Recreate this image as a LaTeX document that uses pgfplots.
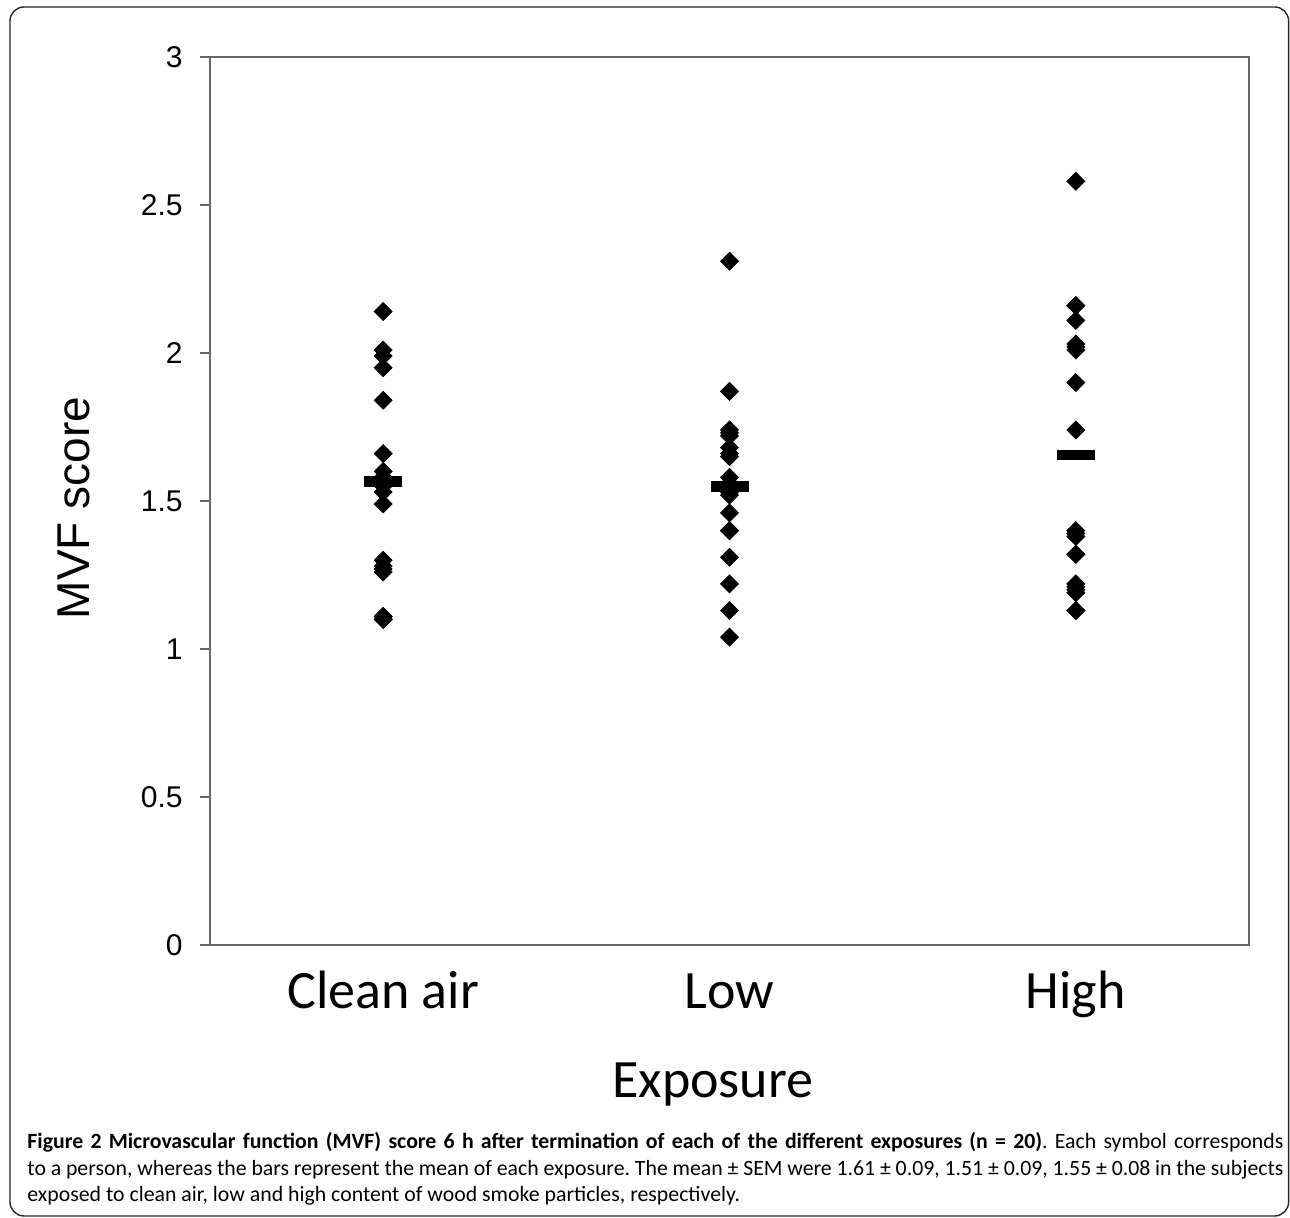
\documentclass[border=0pt]{standalone}
\usepackage{fontspec}
\setmainfont{Carlito}
\newfontfamily\arialfont{Liberation Sans}
\usepackage{pgfplots}
\pgfplotsset{compat=1.18}
\frenchspacing

\begin{document}
\begin{tikzpicture}
% page size: 1 px of the reference = 0.5pt, axis box at origin
\path (-105pt,472.5pt) rectangle (540pt,-136.5pt);
\draw[line width=0.7pt, black!85, rounded corners=7pt] (-100pt,469pt) rectangle (539.3pt,-135.5pt);
\begin{axis}[
  at={(0,0)}, anchor=south west,
  scale only axis, width=519.5pt, height=444pt,
  xmin=0.5, xmax=3.5, ymin=0, ymax=3,
  xtick={1,2,3}, xticklabels={Clean air,Low,High},
  ytick={0,0.5,...,3}, ytick pos=left,
  axis line style={draw=black!60, line width=1.4pt},
  tick align=outside, major tick length=5pt,
  x tick style={draw=none},
  y tick style={draw=black!60, line width=1.2pt},
  /pgf/number format/assume math mode=true,
  yticklabel style={font=\arialfont\fontsize{15}{15}\selectfont, anchor=east, inner sep=0pt, xshift=-8.5pt},
  xticklabel style={font=\fontsize{27}{27}\selectfont, anchor=base, yshift=-27pt},
  xlabel={Exposure},
  xlabel style={font=\fontsize{27}{27}\selectfont, at={(axis description cs:0.484,-0.1712)}, anchor=base},
  ylabel={MVF score},
  ylabel style={font=\arialfont\fontsize{23}{23}\selectfont, at={(axis description cs:-0.1155,0.492)}, anchor=base},
]
% each subject
\addplot[only marks, mark=square*, mark size=3.2pt,
  mark options={rotate=45, fill=black, draw=black, line width=0.3pt}] table {
x y
1 2.14
1 2.01
1 1.99
1 1.95
1 1.84
1 1.66
1 1.60
1 1.58
1 1.56
1 1.55
1 1.53
1 1.49
1 1.30
1 1.28
1 1.27
1 1.26
1 1.11
1 1.10
1 1.10
1 1.11
2 2.31
2 1.87
2 1.74
2 1.73
2 1.72
2 1.68
2 1.66
2 1.65
2 1.58
2 1.56
2 1.55
2 1.53
2 1.52
2 1.46
2 1.40
2 1.40
2 1.31
2 1.22
2 1.13
2 1.04
3 2.58
3 2.16
3 2.16
3 2.11
3 2.03
3 2.02
3 2.01
3 1.90
3 1.74
3 1.40
3 1.39
3 1.38
3 1.32
3 1.32
3 1.22
3 1.21
3 1.20
3 1.19
3 1.13
3 1.13
};
% group means
\addplot[only marks, mark=-, mark size=9.5pt, mark options={line width=5.3pt, black}]
  coordinates {(1,1.565) (2,1.548) (3,1.655)};
\end{axis}
\node[anchor=base west, inner sep=0pt, text width=628pt, align=justify,
  font=\fontsize{10.9}{13.2}\selectfont] at (-91.5pt,-102pt)
  {\textbf{Figure 2 Microvascular function (MVF) score 6 h after termination of each of the different exposures (n = 20)}. Each symbol corresponds\linebreak
  to a person, whereas the bars represent the mean of each exposure. The mean ± SEM were 1.61 ± 0.09, 1.51 ± 0.09, 1.55 ± 0.08 in the subjects\linebreak
  exposed to clean air, low and high content of wood smoke particles, respectively.};
\end{tikzpicture}
\end{document}
